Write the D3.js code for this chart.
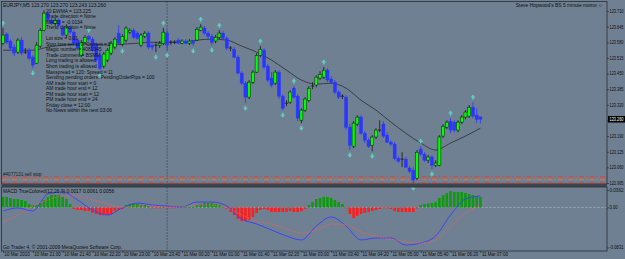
<!DOCTYPE html>
<html>
<head>
<meta charset="utf-8">
<script src="https://cdn.jsdelivr.net/npm/d3@7"></script>
<style>
  html, body { margin: 0; padding: 0; background: #6f8092; }
  svg { display: block; font-family: "Liberation Sans", "DejaVu Sans", sans-serif; }
</style>
</head>
<body>
<svg id="chart" width="625" height="259"></svg>
<script>
// EURJPY M5, 10 Mar 20:20 .. 11 Mar 07:00 (129 bars)
const opens = [123.576,123.614,123.585,123.560,123.539,123.589,123.539,123.547,123.518,123.493,
123.564,123.630,123.701,123.672,123.659,123.672,123.639,123.610,123.643,123.622,
123.589,123.526,123.580,123.605,123.593,123.568,123.526,123.481,123.506,123.535,
123.560,123.618,123.572,123.589,123.622,123.630,123.618,123.568,123.605,123.618,
123.568,123.568,123.568,123.576,123.618,123.580,123.580,123.589,123.576,123.585,
123.576,123.585,123.589,123.630,123.639,123.618,123.605,123.585,123.601,123.618,
123.597,123.556,123.551,123.518,123.452,123.410,123.352,123.414,123.456,123.526,
123.547,123.481,123.431,123.410,123.456,123.356,123.327,123.331,123.389,123.356,
123.256,123.298,123.339,123.398,123.402,123.431,123.435,123.464,123.427,123.414,
123.373,123.356,123.352,123.227,123.148,123.240,123.269,123.202,123.173,123.152,
123.186,123.215,123.240,123.194,123.165,123.157,123.098,123.094,123.094,123.057,
123.048,123.015,123.136,123.115,123.090,123.103,123.069,123.069,123.190,123.227,
123.252,123.248,123.215,123.248,123.269,123.273,123.310,123.277,123.270];

const highs = [123.639,123.622,123.593,123.572,123.597,123.601,123.556,123.556,123.526,123.580,
123.639,123.713,123.709,123.680,123.680,123.680,123.647,123.655,123.651,123.630,
123.597,123.589,123.610,123.610,123.601,123.580,123.547,123.539,123.556,123.585,
123.601,123.651,123.614,123.647,123.639,123.639,123.626,123.618,123.626,123.626,
123.576,123.580,123.585,123.639,123.630,123.589,123.589,123.597,123.593,123.593,
123.593,123.589,123.643,123.655,123.647,123.626,123.614,123.610,123.630,123.626,
123.605,123.564,123.560,123.526,123.460,123.418,123.423,123.464,123.535,123.564,
123.556,123.489,123.456,123.464,123.464,123.364,123.339,123.381,123.398,123.364,
123.306,123.352,123.398,123.414,123.443,123.460,123.477,123.472,123.439,123.423,
123.381,123.364,123.360,123.240,123.252,123.277,123.277,123.211,123.182,123.194,
123.223,123.256,123.252,123.206,123.173,123.165,123.107,123.123,123.103,123.065,
123.061,123.132,123.148,123.123,123.111,123.111,123.090,123.194,123.240,123.256,
123.265,123.256,123.256,123.277,123.298,123.319,123.331,123.306,123.270];

const lows = [123.568,123.572,123.547,123.522,123.531,123.526,123.531,123.506,123.472,123.489,
123.556,123.626,123.664,123.651,123.647,123.643,123.605,123.601,123.614,123.568,
123.547,123.518,123.572,123.585,123.539,123.497,123.464,123.472,123.497,123.526,
123.551,123.568,123.564,123.580,123.614,123.593,123.589,123.560,123.597,123.551,
123.547,123.539,123.556,123.568,123.547,123.568,123.572,123.572,123.572,123.572,
123.568,123.564,123.585,123.626,123.610,123.597,123.568,123.576,123.593,123.589,
123.547,123.543,123.514,123.447,123.402,123.327,123.344,123.406,123.452,123.518,
123.468,123.414,123.393,123.402,123.344,123.298,123.314,123.323,123.344,123.252,
123.244,123.290,123.331,123.385,123.393,123.423,123.427,123.414,123.406,123.364,
123.344,123.344,123.215,123.132,123.140,123.231,123.194,123.161,123.140,123.127,
123.177,123.206,123.182,123.161,123.148,123.090,123.078,123.061,123.057,123.036,
122.994,123.007,123.107,123.082,123.078,123.053,123.061,123.065,123.182,123.219,
123.202,123.206,123.206,123.240,123.260,123.265,123.265,123.244,123.243];

const closes = [123.610,123.580,123.556,123.535,123.589,123.535,123.539,123.514,123.485,123.568,
123.630,123.701,123.672,123.659,123.672,123.651,123.610,123.647,123.622,123.576,
123.556,123.580,123.601,123.593,123.547,123.506,123.472,123.531,123.547,123.576,
123.593,123.576,123.605,123.639,123.630,123.601,123.597,123.610,123.618,123.560,
123.560,123.568,123.576,123.622,123.568,123.580,123.580,123.576,123.585,123.576,
123.585,123.576,123.634,123.643,123.618,123.605,123.580,123.601,123.618,123.597,
123.556,123.556,123.518,123.452,123.410,123.352,123.414,123.456,123.526,123.551,
123.477,123.423,123.402,123.456,123.356,123.306,123.327,123.373,123.352,123.265,
123.298,123.344,123.389,123.398,123.435,123.447,123.464,123.423,123.414,123.373,
123.352,123.356,123.227,123.152,123.244,123.269,123.202,123.173,123.148,123.186,
123.215,123.215,123.190,123.165,123.157,123.098,123.086,123.094,123.061,123.044,
123.007,123.123,123.115,123.090,123.103,123.069,123.078,123.186,123.231,123.248,
123.215,123.215,123.248,123.269,123.290,123.310,123.273,123.260,123.260];

// fractal arrows (bar indexes)
const fractalUp = [0, 23, 43, 53, 58, 69, 78, 86, 112, 120, 126];
const fractalDown = [8, 26, 32, 41, 44, 51, 56, 65, 75, 80, 93, 99, 110, 115];

// 20 EWMA, read every 4th bar
const maStep = 4;
const ema20 = [123.547,123.547,123.547,123.560,123.568,123.572,123.572,123.568,123.572,123.576,
123.580,123.580,123.580,123.589,123.593,123.589,123.564,123.539,123.506,123.464,
123.423,123.406,123.410,123.389,123.339,123.298,123.248,123.202,123.161,123.132,
123.161,123.190,123.223];

// MACD TrueColored histogram, one per bar
const macdHist = [0.0217,0.0217,0.0196,0.0175,0.0175,0.0155,0.0134,0.0072,0.0051,0.0051,
0.0092,0.0155,0.0217,0.0258,0.0258,0.0258,0.0217,0.0175,0.0072,-0.0032,
-0.0053,-0.0053,-0.0074,-0.0074,-0.0115,-0.0136,-0.0157,-0.0157,-0.0157,-0.0136,
-0.0074,-0.0053,-0.0032,0.0051,0.0072,0.0072,0.0072,0.0051,0.0051,0.0030,
-0.0011,-0.0011,-0.0011,0.0009,-0.0011,-0.0005,-0.0005,0.0005,0.0009,0.0009,
0.0005,0.0009,0.0051,0.0072,0.0092,0.0092,0.0092,0.0072,0.0051,0.0009,
-0.0032,-0.0094,-0.0157,-0.0240,-0.0282,-0.0282,-0.0260,-0.0198,-0.0115,-0.0053,
-0.0032,-0.0053,-0.0094,-0.0094,-0.0094,-0.0094,-0.0094,-0.0074,-0.0094,-0.0094,
-0.0074,-0.0032,0.0051,0.0113,0.0175,0.0196,0.0217,0.0217,0.0196,0.0155,
0.0113,0.0072,-0.0011,-0.0136,-0.0219,-0.0177,-0.0136,-0.0115,-0.0094,-0.0074,
-0.0053,-0.0032,-0.0011,-0.0011,-0.0032,-0.0074,-0.0094,-0.0094,-0.0094,-0.0094,
-0.0094,-0.0020,0.0051,0.0072,0.0082,0.0092,0.0113,0.0196,0.0258,0.0300,
0.0341,0.0321,0.0321,0.0321,0.0300,0.0279,0.0258,0.0238,0.0217];

// MACD main and signal lines, read every 4th bar
const macdMain = [-0.0074,-0.0011,-0.0074,0.0279,0.0321,0.0155,-0.0053,-0.0157,-0.0011,0.0092,
0.0051,0.0030,0.0009,0.0113,0.0113,0.0030,-0.0240,-0.0343,-0.0468,-0.0592,
-0.0675,-0.0385,-0.0198,-0.0385,-0.0675,-0.0634,-0.0634,-0.0779,-0.0738,-0.0592,
-0.0157,0.0175,0.0238];
const macdSignal = [-0.0302,-0.0157,0.0030,0.0155,0.0238,0.0238,0.0155,0.0072,0.0009,0.0030,
0.0030,0.0009,0.0009,0.0051,0.0051,-0.0011,-0.0157,-0.0282,-0.0343,-0.0447,
-0.0530,-0.0468,-0.0343,-0.0364,-0.0509,-0.0592,-0.0655,-0.0717,-0.0738,-0.0675,
-0.0406,-0.0115,0.0051];

const priceTicks = [123.710,123.645,123.580,123.515,123.450,123.385,123.320,123.255,123.190,123.125,123.060,122.995];
const macdTicks = [0.0362, 0, -0.0831];
const timeLabels = ["10 Mar 2010","10 Mar 21:00","10 Mar 21:40","10 Mar 22:20","10 Mar 23:00","10 Mar 23:40",
"11 Mar 00:20","11 Mar 01:00","11 Mar 01:40","11 Mar 02:20","11 Mar 03:00","11 Mar 03:40",
"11 Mar 04:20","11 Mar 05:00","11 Mar 05:40","11 Mar 06:20","11 Mar 07:00"];
const daySeparator = 44;   // 11 Mar 00:00
const orderLevels = [123.021, 123.009, 122.997];
const lastPrice = 123.260;

const commentLines = ["20 EWMA = 123.225","Trade direction = None","MACD = -0.0134","Trend direction = None","",
"Lot size = 0.01","Stop loss set at 0. Current = 0","Magic number = 4081345","Trade comment = BSMM",
"Long trading is allowed","Short trading is allowed","Maxspread = 120: Spread = 11",
"Sending pending orders.  PendingOrderPips = 100","AM trade hour start = 0","AM trade hour end = 12",
"PM trade hour start = 12","PM trade hour end = 24","Friday close = 12:00","No News within the next 03:06"];

let width = 625, height = 259;
let plotLeft = 1.5, plotRight = 607;
let mainTop = 1.5, mainBottom = 184;
let subTop = 187, subBottom = 251;

let x = d3.scaleLinear().domain([0, 128]).range([3, 480.4]);
let y = d3.scaleLinear().domain([122.995, 123.710]).range([183, 11]);
let ym = d3.scaleLinear().domain([-0.0831, 0.0362]).range([247.5, 190]);

var svg = d3.select('#chart');
svg.append('rect').attr('width', width).attr('height', height).attr('fill', '#6f8092');

// day separator
svg.append('line')
    .attr('x1', x(daySeparator)).attr('x2', x(daySeparator))
    .attr('y1', mainTop).attr('y2', subBottom)
    .attr('stroke', '#2e3236').attr('stroke-dasharray', '1,2');

// pending order lines
var orderColors = ['#e8402a', '#ff6a2a', '#e8402a'];
svg.append('g').selectAll('line').data(orderLevels).enter().append('line')
    .attr('x1', plotLeft).attr('x2', plotRight)
    .attr('y1', d => y(d)).attr('y2', d => y(d))
    .attr('stroke', (d, i) => orderColors[i])
    .attr('stroke-width', 0.9)
    .attr('stroke-dasharray', '5,2,1.5,2');
svg.append('text').attr('x', 3).attr('y', y(orderLevels[0]) - 1)
    .attr('font-size', 4.6).attr('fill', '#1d1d1d').text('#4077131 sell stop');

// moving average
var maLine = d3.line().x((d, k) => x(k * maStep)).y(d => y(d)).curve(d3.curveMonotoneX);
svg.append('path').datum(ema20).attr('d', maLine)
    .attr('fill', 'none').attr('stroke', '#2b2d30').attr('stroke-width', 0.8);

// candles
var bars = d3.range(opens.length).map(i => ({ i: i, o: opens[i], h: highs[i], l: lows[i], c: closes[i] }));
var bull = '#00ff00', bear = '#2a36ff';
var candle = svg.append('g').selectAll('g').data(bars).enter().append('g');
candle.append('line')
    .attr('x1', d => x(d.i)).attr('x2', d => x(d.i))
    .attr('y1', d => y(d.h)).attr('y2', d => y(d.l))
    .attr('stroke', d => d.c < d.o ? bear : '#161616')
    .attr('stroke-width', 0.8);
candle.filter(d => d.c !== d.o).append('rect')
    .attr('x', d => x(d.i) - 1.5).attr('width', 3)
    .attr('y', d => y(Math.max(d.o, d.c)))
    .attr('height', d => Math.max(1, Math.abs(y(d.o) - y(d.c))))
    .attr('fill', d => d.c > d.o ? bull : bear)
    .attr('stroke', d => d.c > d.o ? '#161616' : bear)
    .attr('stroke-width', 0.5);
candle.filter(d => d.c === d.o).append('line')
    .attr('x1', d => x(d.i) - 1.6).attr('x2', d => x(d.i) + 1.6)
    .attr('y1', d => y(d.o)).attr('y2', d => y(d.o))
    .attr('stroke', '#161616').attr('stroke-width', 0.8);

// fractal arrows
var arrowUp = 'M0,-2.6L2.6,0.8L0.8,0.2L0.8,2.4L-0.8,2.4L-0.8,0.2L-2.6,0.8Z';
var arrowDown = 'M0,2.6L2.6,-0.8L0.8,-0.2L0.8,-2.4L-0.8,-2.4L-0.8,-0.2L-2.6,-0.8Z';
svg.append('g').selectAll('path').data(fractalUp).enter().append('path')
    .attr('d', arrowUp).attr('fill', '#5fd0c6')
    .attr('transform', i => 'translate(' + x(i) + ',' + (y(highs[i]) - 5) + ')');
svg.append('g').selectAll('path').data(fractalDown).enter().append('path')
    .attr('d', arrowDown).attr('fill', '#5fd0c6')
    .attr('transform', i => 'translate(' + x(i) + ',' + (y(lows[i]) + 5) + ')');

// MACD panel
svg.append('line').attr('x1', plotLeft).attr('x2', plotRight)
    .attr('y1', ym(0)).attr('y2', ym(0))
    .attr('stroke', '#b4bcc4').attr('stroke-width', 0.7).attr('stroke-dasharray', '2,2');
svg.append('g').selectAll('rect').data(macdHist).enter().append('rect')
    .attr('x', (d, i) => x(i) - 1.3).attr('width', 2.6)
    .attr('y', d => Math.min(ym(0), ym(d)))
    .attr('height', d => Math.max(0.8, Math.abs(ym(d) - ym(0))))
    .attr('fill', d => d >= 0 ? '#0d9a0d' : '#ff1c1c');
var macdLine = d3.line().x((d, k) => x(k * maStep)).y(d => ym(d)).curve(d3.curveMonotoneX);
svg.append('path').datum(macdMain).attr('d', macdLine)
    .attr('fill', 'none').attr('stroke', '#3b3bff').attr('stroke-width', 0.9);
svg.append('path').datum(macdSignal).attr('d', macdLine)
    .attr('fill', 'none').attr('stroke', '#ff5a5a').attr('stroke-width', 0.9)
    .attr('stroke-dasharray', '1.5,1.5');

// frames
svg.append('rect').attr('x', plotLeft).attr('y', mainTop)
    .attr('width', plotRight - plotLeft).attr('height', mainBottom - mainTop)
    .attr('fill', 'none').attr('stroke', '#2f353c').attr('stroke-width', 0.9);
svg.append('rect').attr('x', plotLeft).attr('y', mainBottom)
    .attr('width', plotRight - plotLeft).attr('height', subTop - mainBottom)
    .attr('fill', '#3c444d');
svg.append('rect').attr('x', plotLeft).attr('y', subTop)
    .attr('width', plotRight - plotLeft).attr('height', subBottom - subTop)
    .attr('fill', 'none').attr('stroke', '#2f353c').attr('stroke-width', 0.9);

// axes
var yAxis = d3.axisRight(y).tickValues(priceTicks).tickSize(2).tickFormat(d3.format('.3f'));
var gy = svg.append('g').attr('transform', 'translate(' + plotRight + ',0)').call(yAxis);
var mAxis = d3.axisRight(ym).tickValues(macdTicks).tickSize(2)
    .tickFormat(d => d === 0 ? '0.00' : d.toFixed(4));
var gm = svg.append('g').attr('transform', 'translate(' + plotRight + ',0)').call(mAxis);
var xAxis = d3.axisBottom(x).tickValues(d3.range(0, 129, 8)).tickSize(2)
    .tickFormat((d, k) => timeLabels[k]);
var gx = svg.append('g').attr('transform', 'translate(0,' + subBottom + ')').call(xAxis);
[gy, gm, gx].forEach(g => {
    g.select('.domain').remove();
    g.selectAll('line').attr('stroke', '#1d2024').attr('stroke-width', 0.6);
    g.selectAll('text').attr('font-size', 4.5).attr('fill', '#0c0c0c')
        .attr('font-family', '"Liberation Sans", sans-serif');
});
// right-hand labels squeezed into the narrow price column
gy.selectAll('text').attr('x', 2.5).attr('textLength', 14).attr('lengthAdjust', 'spacingAndGlyphs');
gm.selectAll('text').attr('x', 2.5)
    .attr('textLength', d => d === 0 ? 8 : 14).attr('lengthAdjust', 'spacingAndGlyphs');
// the last price marker covers this one
gy.selectAll('.tick').filter(d => Math.abs(y(d) - y(lastPrice)) < 4).select('text').remove();
gx.selectAll('text').attr('text-anchor', 'start').attr('x', 1).attr('y', 2.2);

// last price marker
svg.append('rect').attr('x', plotRight + 1).attr('y', y(lastPrice) - 3.3)
    .attr('width', 17).attr('height', 6.6).attr('fill', '#000');
svg.append('text').attr('x', plotRight + 2.5).attr('y', y(lastPrice)).attr('dy', '0.35em')
    .attr('font-size', 4.5).attr('fill', '#fff')
    .attr('textLength', 14).attr('lengthAdjust', 'spacingAndGlyphs')
    .text(lastPrice.toFixed(3));

// texts
var txt = svg.append('g').attr('font-size', 4.9).attr('fill', '#0e0e0e');
txt.append('text').attr('x', 3).attr('y', 7)
    .text('EURJPY,M5  123.270 123.270 123.243 123.260');
txt.append('text').attr('x', 603).attr('y', 7).attr('text-anchor', 'end')
    .text("Steve Hopwood's BS 5 minute momo \u263A");
txt.selectAll('.cm').data(commentLines).enter().append('text').attr('class', 'cm')
    .attr('x', 46).attr('y', (d, i) => 12.5 + i * 5.55).text(d => d);
txt.append('text').attr('x', 3).attr('y', 192.5)
    .text('MACD TrueColored(12,26,9) 0.0017 0.0061 0.0056');
txt.append('text').attr('x', 3).attr('y', 248.5)
    .text('Go Trader 4, \u00A9 2001-2009 MetaQuotes Software Corp.');
</script>
</body>
</html>
